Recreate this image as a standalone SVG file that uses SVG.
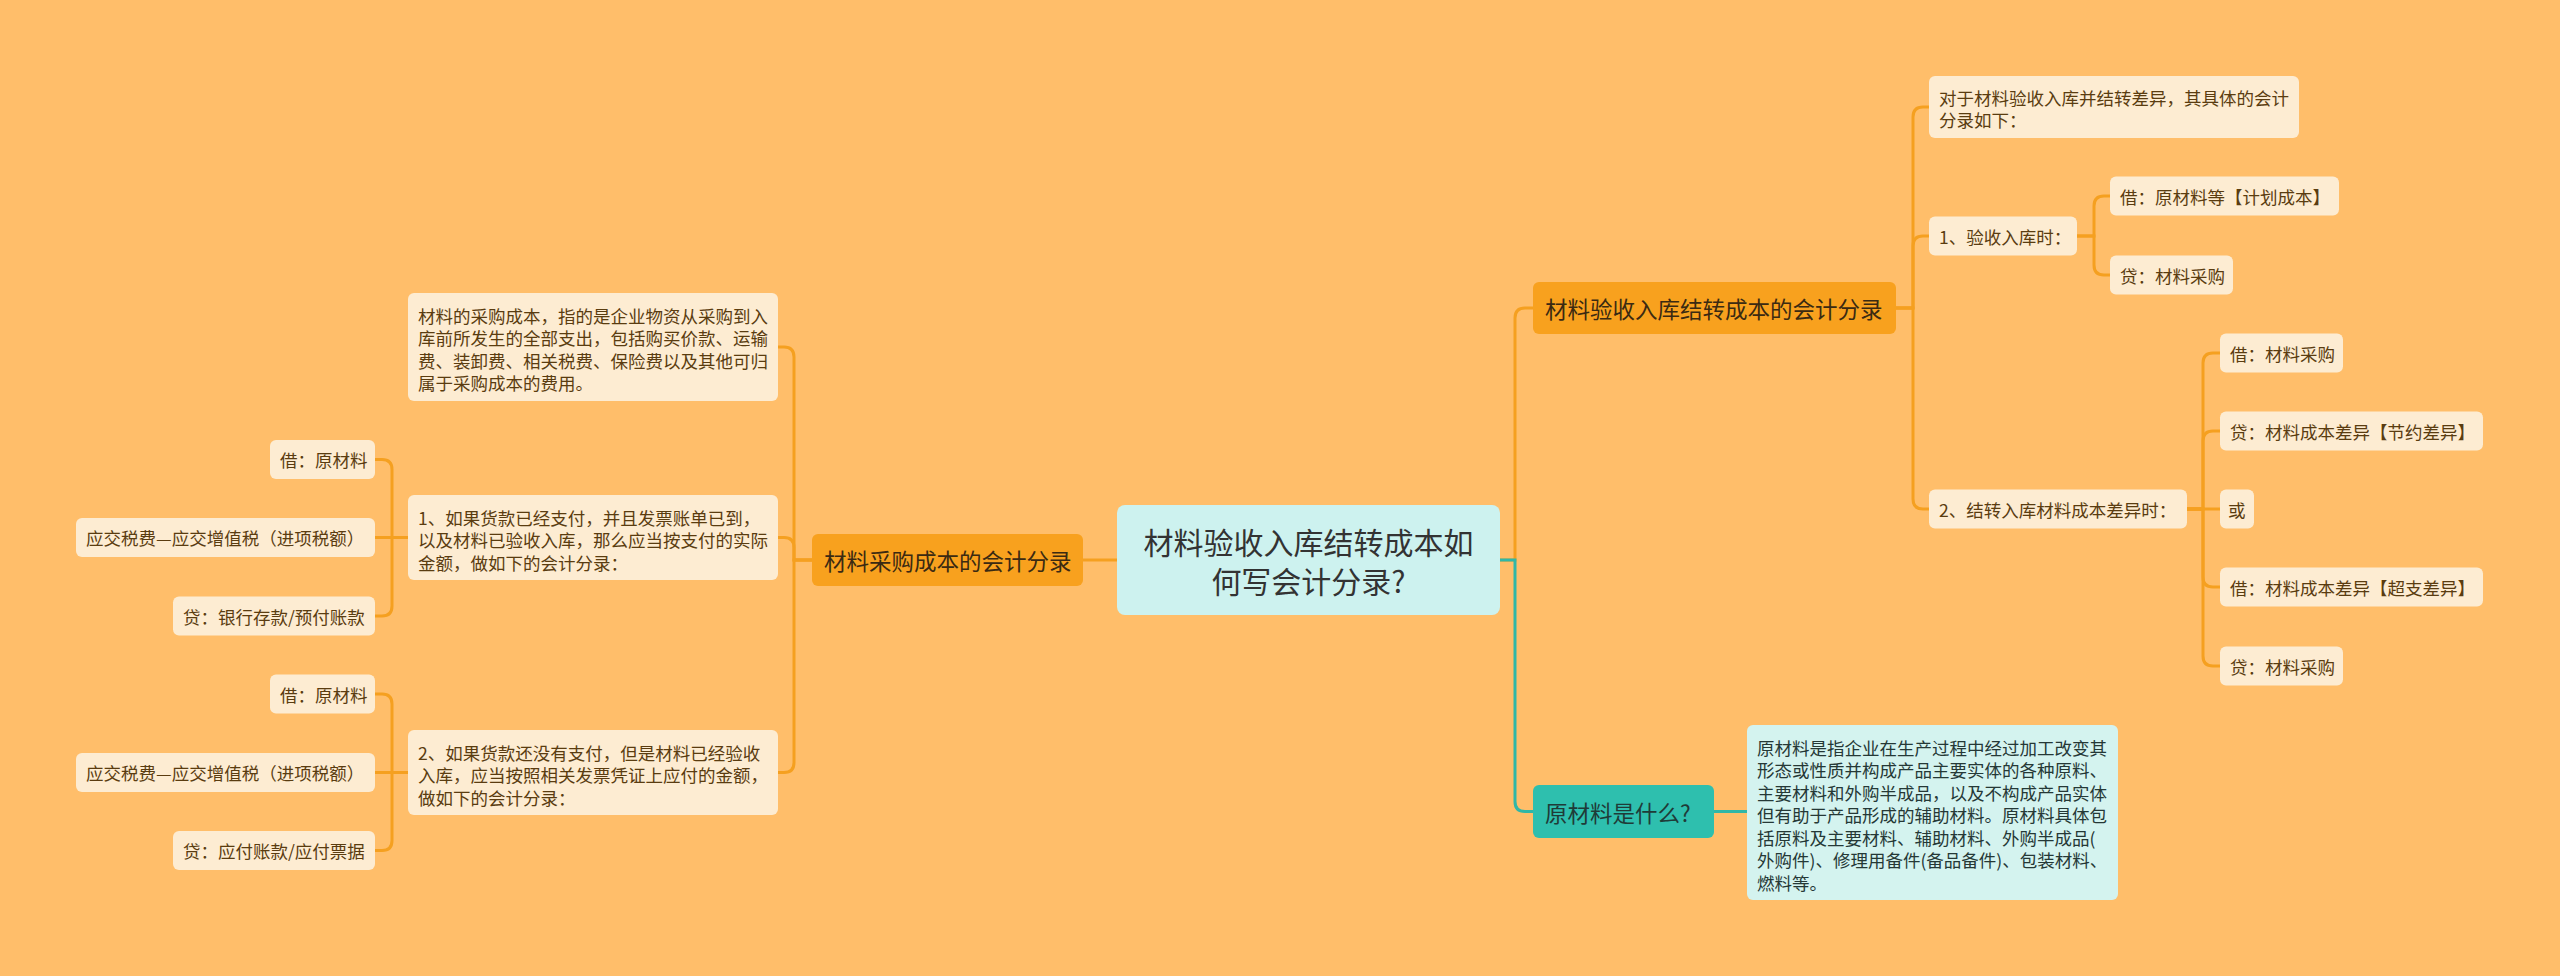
<svg xmlns="http://www.w3.org/2000/svg" width="2560" height="976" viewBox="0 0 2560 976">
<style>
text{font-family:"Noto Sans CJK SC","Noto Sans",sans-serif;dominant-baseline:central}
.leaf rect{fill:#fdecd2}
.leaf text{font-size:17.5px;fill:#5a3c10}
.main rect{fill:#f8a11e}
.main text{font-size:22.5px;fill:#3b2a12}
.tealmain rect{fill:#2ebfae}
.tealmain text{font-size:22.5px;fill:#1f3b38}
.tealleaf rect{fill:#d4f3ef}
.tealleaf text{font-size:17.5px;fill:#253836}
.root rect{fill:#cdf2ef}
.root text{font-size:30px;fill:#333;text-anchor:middle}
.c{fill:none;stroke:#f5a020;stroke-width:3}
.t{fill:none;stroke:#30b7a7;stroke-width:3}
</style>
<rect width="2560" height="976" fill="#ffbe6a"/>
<g id="connectors">
<path class="c" d="M1117,560 H1083"/>
<path class="c" d="M1500,560 H1515 V318 Q1515,308 1525,308 H1533"/>
<path class="t" d="M1500,560 H1515 V801.5 Q1515,811.5 1525,811.5 H1533"/>
<path class="t" d="M1714,811.5 H1747"/>
<path class="c" d="M1896,308 H1913 V117 Q1913,107 1923,107 H1929"/>
<path class="c" d="M1896,308 H1913 V246 Q1913,236 1923,236 H1929"/>
<path class="c" d="M1896,308 H1913 V499 Q1913,509 1923,509 H1929"/>
<path class="c" d="M2077,236 H2094 V206 Q2094,196 2104,196 H2110"/>
<path class="c" d="M2077,236 H2094 V265 Q2094,275 2104,275 H2110"/>
<path class="c" d="M2187,509 H2203 V363 Q2203,353 2213,353 H2220"/>
<path class="c" d="M2187,509 H2203 V441 Q2203,431 2213,431 H2220"/>
<path class="c" d="M2187,509 H2220"/>
<path class="c" d="M2187,509 H2203 V577 Q2203,587 2213,587 H2220"/>
<path class="c" d="M2187,509 H2203 V656 Q2203,666 2213,666 H2220"/>
<path class="c" d="M812,560 H794 V357 Q794,347 784,347 H778"/>
<path class="c" d="M812,560 H794 V547.5 Q794,537.5 784,537.5 H778"/>
<path class="c" d="M812,560 H794 V762.5 Q794,772.5 784,772.5 H778"/>
<path class="c" d="M408,537.5 H392 V469.5 Q392,459.5 382,459.5 H375"/>
<path class="c" d="M408,537.5 H375"/>
<path class="c" d="M408,537.5 H392 V606 Q392,616 382,616 H375"/>
<path class="c" d="M408,772.5 H392 V704 Q392,694 382,694 H375"/>
<path class="c" d="M408,772.5 H375"/>
<path class="c" d="M408,772.5 H392 V840.5 Q392,850.5 382,850.5 H375"/>
</g>
<g id="root" class="root">
<rect x="1117" y="505" width="383" height="110" rx="8"/>
<text x="1308.5" y="541">材料验收入库结转成本如</text>
<text x="1308.5" y="580">何写会计分录?</text>
</g>
<g id="left-main" class="main">
<rect x="812" y="534" width="271" height="52" rx="6"/>
<text x="824" y="560">材料采购成本的会计分录</text>
</g>
<g id="right-main" class="main">
<rect x="1533" y="282" width="363" height="52" rx="6"/>
<text x="1545" y="308">材料验收入库结转成本的会计分录</text>
</g>
<g id="teal-main" class="tealmain">
<rect x="1533" y="785" width="181" height="53" rx="6"/>
<text x="1545" y="811.5">原材料是什么?</text>
</g>
<g id="teal-leaf" class="tealleaf">
<rect x="1747" y="725" width="371" height="175" rx="6"/>
<text x="1757" y="747">原材料是指企业在生产过程中经过加工改变其</text>
<text x="1757" y="769.5">形态或性质并构成产品主要实体的各种原料、</text>
<text x="1757" y="792">主要材料和外购半成品，以及不构成产品实体</text>
<text x="1757" y="814.5">但有助于产品形成的辅助材料。原材料具体包</text>
<text x="1757" y="837">括原料及主要材料、辅助材料、外购半成品(</text>
<text x="1757" y="859.5">外购件)、修理用备件(备品备件)、包装材料、</text>
<text x="1757" y="882">燃料等。</text>
</g>
<g id="l-def" class="leaf">
<rect x="408" y="293" width="370" height="108" rx="6"/>
<text x="418" y="315">材料的采购成本，指的是企业物资从采购到入</text>
<text x="418" y="337.5">库前所发生的全部支出，包括购买价款、运输</text>
<text x="418" y="360">费、装卸费、相关税费、保险费以及其他可归</text>
<text x="418" y="382.5">属于采购成本的费用。</text>
</g>
<g id="l-case1" class="leaf">
<rect x="408" y="495" width="370" height="85" rx="6"/>
<text x="418" y="517">1、如果货款已经支付，并且发票账单已到，</text>
<text x="418" y="539.5">以及材料已验收入库，那么应当按支付的实际</text>
<text x="418" y="562">金额，做如下的会计分录：</text>
</g>
<g id="l-case2" class="leaf">
<rect x="408" y="730" width="370" height="85" rx="6"/>
<text x="418" y="752">2、如果货款还没有支付，但是材料已经验收</text>
<text x="418" y="774.5">入库，应当按照相关发票凭证上应付的金额，</text>
<text x="418" y="797">做如下的会计分录：</text>
</g>
<g id="l1-a" class="leaf"><rect x="270" y="440" width="105" height="39" rx="6"/><text x="280" y="459.5">借：原材料</text></g>
<g id="l1-b" class="leaf"><rect x="76" y="518" width="299" height="39" rx="6"/><text x="86" y="537.5">应交税费—应交增值税（进项税额）</text></g>
<g id="l1-c" class="leaf"><rect x="173" y="596.5" width="202" height="39" rx="6"/><text x="183" y="616">贷：银行存款/预付账款</text></g>
<g id="l2-a" class="leaf"><rect x="270" y="674.5" width="105" height="39" rx="6"/><text x="280" y="694">借：原材料</text></g>
<g id="l2-b" class="leaf"><rect x="76" y="753" width="299" height="39" rx="6"/><text x="86" y="772.5">应交税费—应交增值税（进项税额）</text></g>
<g id="l2-c" class="leaf"><rect x="173" y="831" width="202" height="39" rx="6"/><text x="183" y="850.5">贷：应付账款/应付票据</text></g>
<g id="r-intro" class="leaf">
<rect x="1929" y="76" width="370" height="62" rx="6"/>
<text x="1939" y="97">对于材料验收入库并结转差异，其具体的会计</text>
<text x="1939" y="119.5">分录如下：</text>
</g>
<g id="r-case1" class="leaf"><rect x="1929" y="216.5" width="148" height="39" rx="6"/><text x="1939" y="236">1、验收入库时：</text></g>
<g id="r-case2" class="leaf"><rect x="1929" y="489.5" width="258" height="39" rx="6"/><text x="1939" y="509">2、结转入库材料成本差异时：</text></g>
<g id="r1-a" class="leaf"><rect x="2110" y="176.5" width="229" height="39" rx="6"/><text x="2120" y="196">借：原材料等【计划成本】</text></g>
<g id="r1-b" class="leaf"><rect x="2110" y="255.5" width="123" height="39" rx="6"/><text x="2120" y="275">贷：材料采购</text></g>
<g id="r2-a" class="leaf"><rect x="2220" y="333.5" width="123" height="39" rx="6"/><text x="2230" y="353">借：材料采购</text></g>
<g id="r2-b" class="leaf"><rect x="2220" y="411.5" width="263" height="39" rx="6"/><text x="2230" y="431">贷：材料成本差异【节约差异】</text></g>
<g id="r2-c" class="leaf"><rect x="2220" y="489.5" width="34" height="39" rx="6"/><text x="2228" y="509">或</text></g>
<g id="r2-d" class="leaf"><rect x="2220" y="567.5" width="263" height="39" rx="6"/><text x="2230" y="587">借：材料成本差异【超支差异】</text></g>
<g id="r2-e" class="leaf"><rect x="2220" y="646.5" width="123" height="39" rx="6"/><text x="2230" y="666">贷：材料采购</text></g>
</svg>
